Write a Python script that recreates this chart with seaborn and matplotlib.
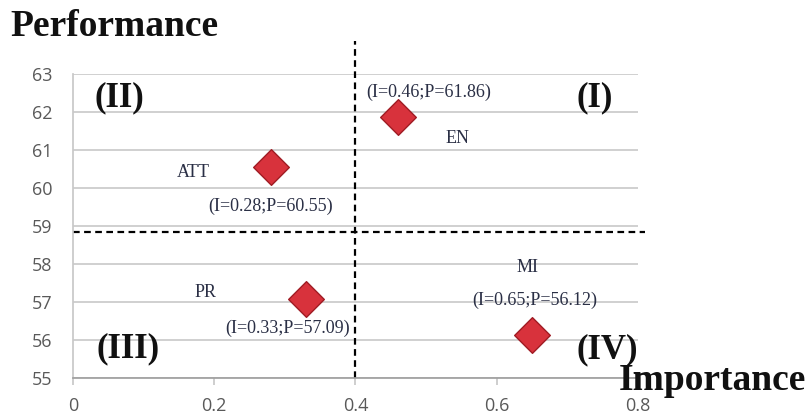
import matplotlib
matplotlib.use("Agg")
import matplotlib.pyplot as plt
import seaborn as sns
import pandas as pd

labels = ["EN", "ATT", "PR", "MI"]
importance = [0.46, 0.28, 0.33, 0.65]
performance = [61.86, 60.55, 57.09, 56.12]
x_ticks = [0, 0.2, 0.4, 0.6, 0.8]
x_tick_labels = ["0", "0.2", "0.4", "0.6", "0.8"]
y_ticks = [55, 56, 57, 58, 59, 60, 61, 62, 63]
x_split = 0.4
y_split = 58.84
quadrants = ["(I)", "(II)", "(III)", "(IV)"]

df = pd.DataFrame({"label": labels, "I": importance, "P": performance})

sns.set_theme(style="white")
plt.rcParams["font.family"] = ["Open Sans", "DejaVu Sans"]

fig = plt.figure(figsize=(8.07, 4.18), dpi=100)
ax = fig.add_axes([0.0905, 0.0957, 0.700, 0.727])

ax.set_xlim(0, 0.8)
ax.set_ylim(55, 63)
ax.set_yticks(y_ticks)
ax.set_xticks(x_ticks)
ax.set_xticklabels(x_tick_labels)
ax.yaxis.grid(True, color="#c8c8c8", linewidth=1.2)
ax.xaxis.grid(False)
for s in ["top", "right"]:
    ax.spines[s].set_visible(False)
ax.spines["left"].set_color("#c8c8c8")
ax.spines["bottom"].set_color("#a0a0a0")
ax.tick_params(axis="y", direction="out", length=6, color="#c8c8c8", labelcolor="#595959", labelsize=13, pad=9)
ax.tick_params(axis="x", direction="out", length=5, color="#c8c8c8", labelcolor="#595959", labelsize=13, pad=9, bottom=True)

ax.axvline(x_split, ymin=0, ymax=1.11, color="black", linestyle=(0, (3, 2)), linewidth=1.6, clip_on=False)
ax.plot([0, 0.81], [y_split, y_split], color="black", linestyle=(0, (3, 2)), linewidth=1.6, clip_on=False)

sns.scatterplot(data=df, x="I", y="P", marker="D", s=330, color="#d8323c",
                edgecolor="#a01c24", linewidth=1.0, ax=ax, zorder=5, legend=False)
ax.set_xlabel("")
ax.set_ylabel("")

serif = ["Liberation Serif", "DejaVu Serif"]
txtc = "#2a2f45"
# point names
ax.text(0.545, 61.3, "EN", family=serif, fontsize=13, color=txtc, ha="center", va="center")
ax.text(0.17, 60.42, "ATT", family=serif, fontsize=13, color=txtc, ha="center", va="center")
ax.text(0.187, 57.24, "PR", family=serif, fontsize=13, color=txtc, ha="center", va="center")
ax.text(0.643, 57.9, "MI", family=serif, fontsize=13, color=txtc, ha="center", va="center")
# coordinate labels
for lab, xi, yi in [("EN", 0.503, 62.53), ("ATT", 0.28, 59.53), ("PR", 0.304, 56.32), ("MI", 0.654, 57.05)]:
    i = labels.index(lab)
    ax.text(xi, yi, f"(I={importance[i]:.2f};P={performance[i]:.2f})", family=serif,
            fontsize=13, color=txtc, ha="center", va="center")

# quadrant labels
qk = dict(family=serif, fontweight="bold", fontsize=25, color="#111111", va="center", ha="left")
ax.text(0.031, 62.37, quadrants[1], **qk)
ax.text(0.713, 62.37, quadrants[0], **qk)
ax.text(0.033, 55.76, quadrants[2], **qk)
ax.text(0.713, 55.74, quadrants[3], **qk)

fig.text(10 / 807, 1 - 27 / 418, "Performance", family=serif, fontweight="bold", fontsize=27, color="#111111", va="center", ha="left")
fig.text(806 / 807, 1 - 380 / 418, "Importance", family=serif, fontweight="bold", fontsize=27, color="#111111", va="center", ha="right")

fig.savefig("out.png", dpi=100)
